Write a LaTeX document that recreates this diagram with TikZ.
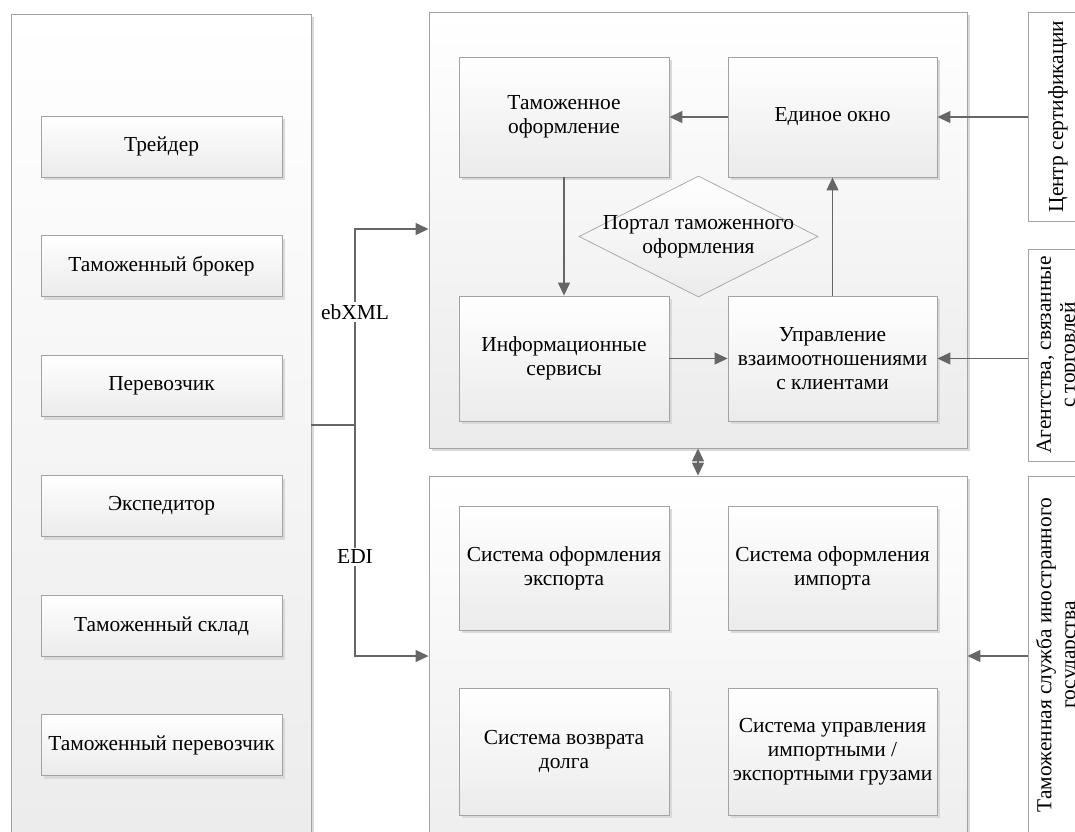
\documentclass[tikz,border=0pt]{standalone}
\usepackage{fontspec}
\setmainfont{Liberation Serif}
\usetikzlibrary{shapes.geometric,arrows.meta,shadows}
\definecolor{edgec}{HTML}{A3A3A3}
\definecolor{arrowc}{HTML}{666666}
\definecolor{shadec}{HTML}{EBEBEB}
\definecolor{shadowc}{HTML}{D9D9D9}
\begin{document}
\begin{tikzpicture}[x=1pt,y=-1pt,
  every node/.style={font=\fontsize{21.4}{24}\selectfont, align=center, inner sep=0pt},
  panel/.style={draw=edgec, line width=0.9pt, top color=white, bottom color=shadec,
    drop shadow={shadow xshift=3pt, shadow yshift=-3pt, fill=shadowc, opacity=1}},
  box/.style={draw=edgec, line width=0.9pt, top color=white, bottom color=shadec,
    drop shadow={shadow xshift=3pt, shadow yshift=-3pt, fill=shadowc, opacity=1}},
  sidebox/.style={draw=edgec, line width=0.9pt, fill=white, rotate=90},
  portal/.style={diamond, draw=edgec, line width=0.7pt, top color=white, bottom color=shadec},
  conn/.style={draw=arrowc, line width=1.2pt},
  arr/.style={conn, -{Triangle[length=13pt,width=12pt]}},
  arrboth/.style={conn, {Triangle[length=13pt,width=12pt]}-{Triangle[length=13pt,width=12pt]}},
  tag/.style={fill=white, inner sep=2pt}
]
\useasboundingbox (0,0) rectangle (1075,831);
\fill[white] (0,0) rectangle (1075,831);
\begin{scope}
\clip (0,0) rectangle (1075,831);
% left panel
\node[panel, minimum width=300pt, minimum height=860pt] (lpanel) at (161,444) {};
\node[box, minimum width=241pt, minimum height=61pt] (trader) at (161.5,146.5) {Трейдер};
\node[box, minimum width=241pt, minimum height=61pt] (broker) at (161.5,266) {Таможенный брокер};
\node[box, minimum width=241pt, minimum height=61pt] (carrier) at (161.5,386) {Перевозчик};
\node[box, minimum width=241pt, minimum height=61pt] (forwarder) at (161.5,506) {Экспедитор};
\node[box, minimum width=241pt, minimum height=61pt] (warehouse) at (161.5,626) {Таможенный склад};
\node[box, minimum width=241pt, minimum height=61pt] (bcarrier) at (161.5,745) {Таможенный перевозчик};
% top panel
\node[panel, minimum width=538pt, minimum height=436pt] (tpanel) at (698,230) {};
\node[box, minimum width=210pt, minimum height=120pt] (tamof) at (564,117) {Таможенное\\оформление};
\node[box, minimum width=209pt, minimum height=120pt] (edin) at (832.5,117) {Единое окно};
\node[box, minimum width=210pt, minimum height=125pt] (info) at (564,358.5) {Информационные\\сервисы};
\node[box, minimum width=209pt, minimum height=125pt] (upr) at (832.5,358.5) {Управление\\взаимоотношениями\\с клиентами};
\node[portal, minimum width=239pt, minimum height=121pt,
  label={[name=portaltext]center:Портал таможенного\\оформления}] (portal) at (698.5,236.5) {};
% bottom panel
\node[panel, minimum width=538pt, minimum height=430pt] (bpanel) at (698,691) {};
\node[box, minimum width=210pt, minimum height=124pt] (exp) at (564,568) {Система оформления\\экспорта};
\node[box, minimum width=209pt, minimum height=124pt] (imp) at (832.5,568) {Система оформления\\импорта};
\node[box, minimum width=210pt, minimum height=127pt] (debt) at (564,751.5) {Система возврата\\долга};
\node[box, minimum width=209pt, minimum height=127pt] (cargo) at (832.5,751.5) {Система управления\\импортными /\\экспортными грузами};
% right side boxes
\node[sidebox, minimum width=209pt, minimum height=60pt] (cert) at (1058,116.5) {Центр сертификации};
\node[sidebox, minimum width=212pt, minimum height=60pt] (agency) at (1058,355) {Агентства, связанные\\с торговлей};
\node[sidebox, minimum width=358pt, minimum height=60pt] (foreign) at (1058,655) {Таможенная служба иностранного\\государства};
% connectors
\coordinate (hub) at (355,425);
\coordinate (ebc) at (355,229);
\coordinate (edic) at (355,656);
\draw[conn] (lpanel.east |- hub) -- (hub);
\draw[arr] (hub) -- (ebc) -- (tpanel.west |- ebc);
\draw[arr] (hub) -- (edic) -- (bpanel.west |- edic);
\node[tag] (ebxml) at (355,312) {ebXML};
\node[tag] (edi) at (355,557) {EDI};
\draw[arr] (edin) -- (tamof);
\draw[arr] (tamof) -- (info);
\draw[arr] (info) -- (upr);
\draw[arr] (upr) -- (edin);
\draw[arr] (cert.north |- edin.east) -- (edin.east);
\draw[arr] (agency.north |- upr.east) -- (upr.east);
\draw[arr] (foreign.north |- edic) -- (bpanel.east |- edic);
\draw[arrboth] (tpanel.south) -- (bpanel.north);
\end{scope}
\end{tikzpicture}
\end{document}
